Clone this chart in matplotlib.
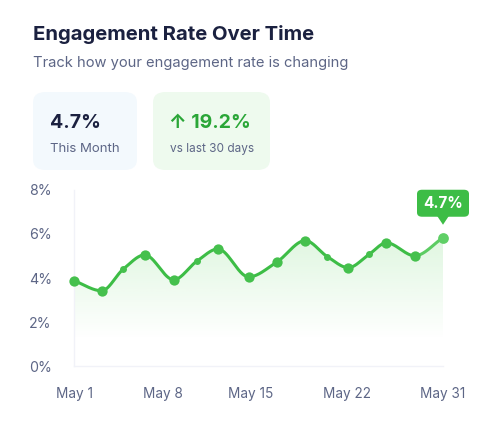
import numpy as np
import matplotlib
matplotlib.use("Agg")
import matplotlib.pyplot as plt
from matplotlib.patches import FancyBboxPatch, Polygon

plt.rcParams['font.family'] = ['Inter', 'DejaVu Sans']

# data
days = [1, 3.25, 5, 6.75, 9.1, 11, 12.7, 15.2, 17.5, 19.8, 21.6, 23.3, 25, 26.4, 28.7, 31]
rate = [3.88, 3.42, 4.4, 5.05, 3.92, 4.77, 5.32, 4.05, 4.73, 5.7, 4.97, 4.47, 5.08, 5.6, 5.01, 5.83]
small_pts = [2, 5, 10, 12]
tick_days = [1, 8.2, 15.4, 23.2, 31]
tick_labels = ['May 1', 'May 8', 'May 15', 'May 22', 'May 31']
y_ticks = [0, 2, 4, 6, 8]

title = 'Engagement Rate Over Time'
subtitle = 'Track how your engagement rate is changing'
current = '4.7%'
change = '19.2%'

green = '#3dbd46'
dark = '#1b2140'
grey = '#5d6686'

W, H = 500, 425
fig = plt.figure(figsize=(W / 100, H / 100), dpi=100)


def fx(px):
    return px / W


def fy(py):
    return 1 - py / H


def smooth(x, y, n=30):
    # monotone cubic (Fritsch-Carlson) through the points
    x = np.asarray(x, float)
    y = np.asarray(y, float)
    h = np.diff(x)
    d = np.diff(y) / h
    m = np.zeros_like(y)
    m[0], m[-1] = d[0], d[-1]
    for i in range(1, len(y) - 1):
        if d[i - 1] * d[i] > 0:
            w1 = 2 * h[i] + h[i - 1]
            w2 = h[i] + 2 * h[i - 1]
            m[i] = (w1 + w2) / (w1 / d[i - 1] + w2 / d[i])
    xs, ys = [], []
    for i in range(len(x) - 1):
        t = np.linspace(0, 1, n, endpoint=False)
        h00 = 2 * t**3 - 3 * t**2 + 1
        h10 = t**3 - 2 * t**2 + t
        h01 = -2 * t**3 + 3 * t**2
        h11 = t**3 - t**2
        xs.append(x[i] + t * h[i])
        ys.append(h00 * y[i] + h10 * h[i] * m[i] + h01 * y[i + 1] + h11 * h[i] * m[i + 1])
    xs.append([x[-1]])
    ys.append([y[-1]])
    return np.concatenate(xs), np.concatenate(ys)


# header
fig.text(fx(33), fy(34), title, fontsize=14.6, fontweight='bold', color=dark, va='center')
fig.text(fx(33), fy(63), subtitle, fontsize=10.6, color=grey, va='center')

# stat cards
card1 = FancyBboxPatch((fx(33), fy(170)), fx(104), fy(92) - fy(170),
                       boxstyle='round,pad=0,rounding_size=0.025', transform=fig.transFigure,
                       fc='#f3f9fd', ec='none')
card2 = FancyBboxPatch((fx(153), fy(170)), fx(117), fy(92) - fy(170),
                       boxstyle='round,pad=0,rounding_size=0.025', transform=fig.transFigure,
                       fc='#eefaee', ec='none')
fig.patches.extend([card1, card2])
fig.text(fx(50), fy(123), current, fontsize=14, fontweight='bold', color=dark, va='center')
fig.text(fx(50), fy(149), 'This Month', fontsize=9.5, color=grey, va='center')
fig.text(fx(169), fy(123), '\u2191 ' + change, fontsize=14, fontweight='bold', color='#2aa637', va='center')
fig.text(fx(170), fy(149), 'vs last 30 days', fontsize=8.5, color=grey, va='center')

# chart
ax = fig.add_axes([fx(74), fy(366), fx(443) - fx(74), fy(190) - fy(366)])
ax.set_xlim(days[0], days[-1])
ax.set_ylim(0, 8)

sx, sy = smooth(days, rate)

# gradient fill under the line
grad = np.linspace(0, 1, 256).reshape(-1, 1)
alpha = np.clip((grad - 0.15) / 0.6, 0, 1) * 0.2
rgba = np.zeros((256, 1, 4))
rgba[..., :3] = matplotlib.colors.to_rgb('#5bd35f')
rgba[..., 3] = alpha
img = ax.imshow(rgba, extent=[days[0], days[-1], 0, 8], origin='lower', aspect='auto', zorder=1)
fill = ax.fill_between(sx, 0, sy, color='none', lw=0)
img.set_clip_path(fill.get_paths()[0], transform=ax.transData)

head = sx <= days[-2]
tail = sx >= days[-2]
ax.plot(sx[head], sy[head], color=green, lw=2.2, solid_capstyle='round', zorder=3, clip_on=False)
ax.plot(sx[tail], sy[tail], color='#5ccc63', lw=2.2, solid_capstyle='round', zorder=3, clip_on=False)

big = [i for i in range(len(days) - 1) if i not in small_pts]
ax.scatter([days[i] for i in big], [rate[i] for i in big], s=55, color='#45c04d', zorder=4, lw=0,
           clip_on=False)
ax.scatter([days[i] for i in small_pts], [rate[i] for i in small_pts], s=25, color='#45c04d', zorder=4,
           lw=0, clip_on=False)
ax.scatter([days[-1]], [rate[-1]], s=60, color='#5fcf66', zorder=4, lw=0, clip_on=False)

ax.set_xticks(tick_days)
ax.set_xticklabels(tick_labels)
ax.set_yticks(y_ticks)
ax.set_yticklabels([f'{v}%' for v in y_ticks])
ax.tick_params(length=0, labelsize=9.8, labelcolor=grey)
ax.tick_params(axis='y', labelsize=10.2)
ax.tick_params(axis='x', pad=15)
ax.tick_params(axis='y', pad=16)
for s in ['top', 'right']:
    ax.spines[s].set_visible(False)
for s in ['left', 'bottom']:
    ax.spines[s].set_color('#f1f2f8')
    ax.spines[s].set_linewidth(1)
ax.patch.set_alpha(0)

# badge over last point
fig.canvas.draw()
px, py = ax.transData.transform((days[-1], rate[-1]))
bx, by = px / W, py / H
bw, bh = fx(52), 27 / H
badge = FancyBboxPatch((bx - bw / 2, by + 21 / H), bw, bh,
                       boxstyle='round,pad=0,rounding_size=0.01', transform=fig.transFigure,
                       fc=green, ec='none')
tri = Polygon([(bx - 6 / W, by + 22 / H), (bx + 6 / W, by + 22 / H), (bx, by + 13 / H)],
              closed=True, transform=fig.transFigure, fc=green, ec='none')
fig.patches.extend([badge, tri])
fig.text(bx, by + 21 / H + bh / 2, current, fontsize=11, fontweight='bold', color='white',
         ha='center', va='center')

fig.savefig('out.png', dpi=100, facecolor='white')
